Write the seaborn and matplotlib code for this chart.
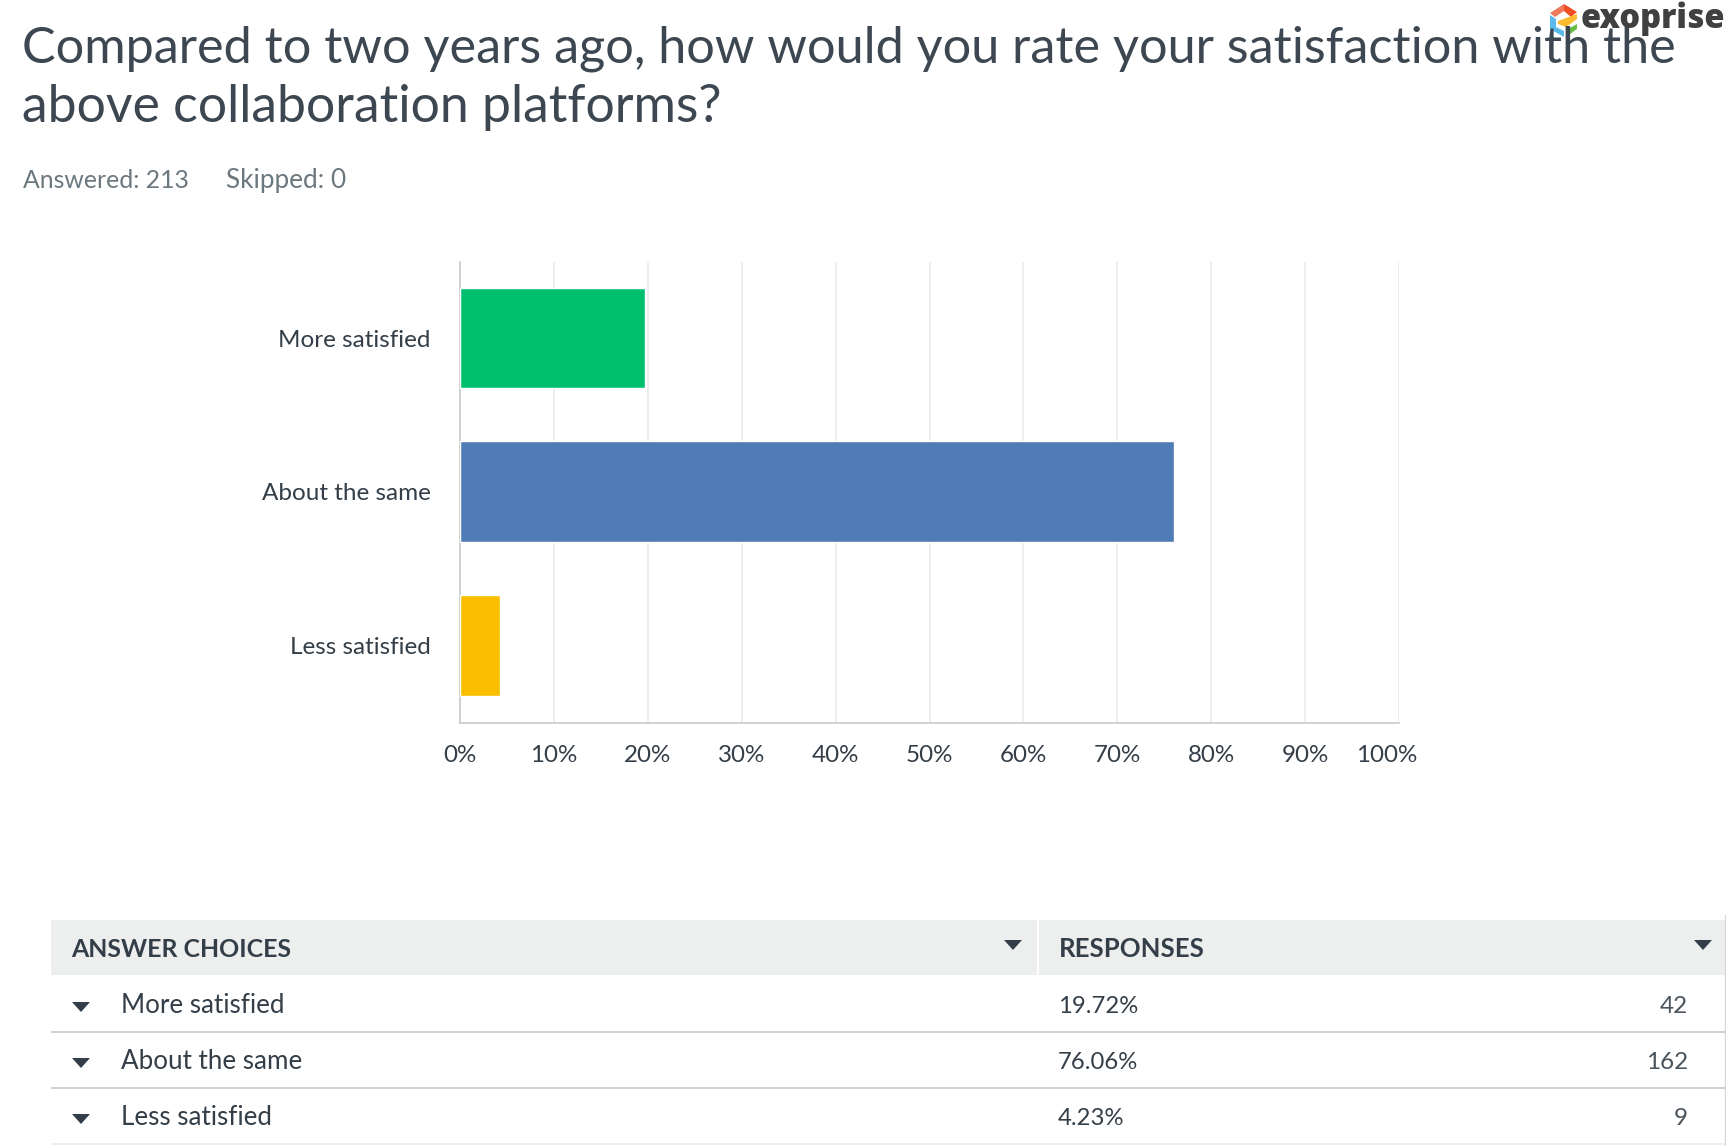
import matplotlib
matplotlib.use("Agg")
import matplotlib.pyplot as plt
from matplotlib.patches import Polygon, Rectangle
from matplotlib.transforms import ScaledTranslation
import pandas as pd
import seaborn as sns

categories = ["More satisfied", "About the same", "Less satisfied"]
percent_values = [19.72, 76.06, 4.23]
percent_labels = ["19.72%", "76.06%", "4.23%"]
response_counts = [42, 162, 9]
bar_colors = ["#00bf6f", "#507cb6", "#f9be00"]
x_ticks = [0, 10, 20, 30, 40, 50, 60, 70, 80, 90, 100]

INK = "#333e48"
W, H = 1726, 1146
FONT = "Lato"

sns.set_theme(style="white")
plt.rcParams["font.family"] = [FONT, "DejaVu Sans"]

df = pd.DataFrame({"choice": categories, "percent": percent_values})

fig = plt.figure(figsize=(W / 100, H / 100), dpi=100, facecolor="white")

# overlay in pixel coordinates, y pointing down like the screenshot
page = fig.add_axes([0, 0, 1, 1])
page.set_xlim(0, W)
page.set_ylim(H, 0)
page.axis("off")

page.text(22, 63, "Compared to two years ago, how would you rate your satisfaction with the",
          fontsize=36.25, color="#3c4751", va="baseline")
page.text(22, 122, "above collaboration platforms?",
          fontsize=37.3, color="#3c4751", va="baseline")
page.text(23, 188, "Answered: 213", fontsize=17.8, color="#6b787f", va="baseline")
page.text(226, 188, "Skipped: 0", fontsize=18.8, color="#6b787f", va="baseline")

# bar chart
ax = fig.add_axes([460 / W, 1 - 723 / H, 939 / W, 461 / H])
sns.barplot(data=df, y="choice", x="percent", hue="choice", palette=bar_colors,
            order=categories, hue_order=categories, width=0.655, saturation=1,
            legend=False, ax=ax, zorder=3)
ax.set_xlim(0, 100)
ax.set_ylim(2.505, -0.495)
ax.set_xticks(x_ticks)
ax.set_xticklabels([f"{t}%" for t in x_ticks])
ax.set_xlabel("")
ax.set_ylabel("")
ax.grid(axis="x", color="#e9e9e9", linewidth=1.1, zorder=0)
ax.grid(axis="y", visible=False)
sns.despine(ax=ax, top=True, right=True)
for side in ["left", "bottom"]:
    ax.spines[side].set_color("#c9c9c9")
    ax.spines[side].set_linewidth(1.2)
ax.tick_params(axis="x", length=0, pad=16, labelsize=17.4, labelcolor=INK)
ax.tick_params(axis="y", length=0, pad=21, labelsize=17.5, labelcolor=INK)
# the 100% label sits left of its gridline in the original
last = ax.get_xticklabels()[-1]
last.set_transform(last.get_transform() + ScaledTranslation(-12 / 100, 0, fig.dpi_scale_trans))

# table under the chart
page.add_patch(Rectangle((51, 920), W - 51, 55, color="#edeeee", lw=0))
page.add_patch(Rectangle((1037, 920), 2, 55, color="white", lw=0))
page.text(71, 957, "ANSWER CHOICES", fontsize=17.9, weight="bold", color=INK, va="baseline")
page.text(1059, 957, "RESPONSES", fontsize=18.5, weight="bold", color=INK, va="baseline")
for cx in [1013, 1703]:
    page.add_patch(Polygon([(cx - 9, 940), (cx + 9, 940), (cx, 950)], color=INK, lw=0))

row_text_y = [1013, 1069, 1125]
row_line_y = [1032, 1088, 1144]
for i, choice in enumerate(categories):
    y = row_text_y[i]
    page.add_patch(Polygon([(72, y - 11), (90, y - 11), (81, y - 1)], color=INK, lw=0))
    page.text(121, y, choice, fontsize=18.7, color=INK, va="baseline")
    page.text(1058, y, percent_labels[i], fontsize=17.2, color=INK, va="baseline")
    page.text(1688, y, str(response_counts[i]), fontsize=17.5, color="#4a545d", va="baseline", ha="right")
    line_color = "#eef0f0" if i == 2 else "#cdd2d2"
    page.plot([51, W], [row_line_y[i]] * 2, color=line_color, lw=1.4, solid_capstyle="butt")
page.plot([W - 1, W - 1], [915, H], color="#d8d8d8", lw=1)

# exoprise logo
page.add_patch(Polygon([(1550, 13), (1564, 4), (1564, 11), (1555, 17)], color="#ef7a5e", lw=0))
page.add_patch(Polygon([(1564, 4), (1577, 12), (1571, 17), (1564, 11)], color="#f04e23", lw=0))
page.add_patch(Polygon([(1550, 15), (1556, 19), (1556, 27), (1564, 31), (1564, 37), (1550, 29)],
                       color="#5bbcec", lw=0))
page.add_patch(Polygon([(1558, 21), (1577, 14), (1577, 19), (1566, 27), (1558, 24)],
                       color="#fdbb30", lw=0))
page.add_patch(Polygon([(1566, 30), (1577, 24), (1577, 29), (1566, 37)], color="#6cbd45", lw=0))
page.text(1581, 28, "exoprise", fontsize=23.5, weight="heavy", family=["Open Sans", "DejaVu Sans"],
          color="#404040", va="baseline")

fig.savefig("out.png", dpi=100)
